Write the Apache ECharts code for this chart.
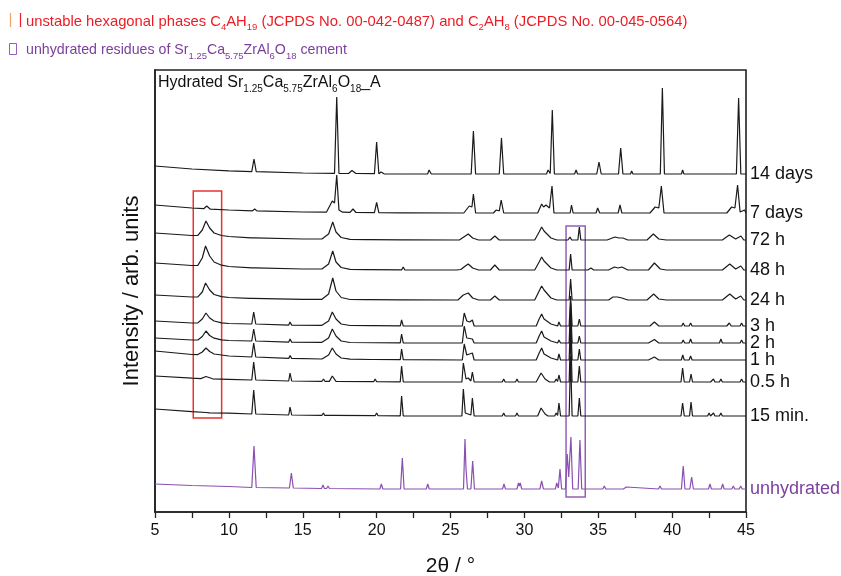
<!DOCTYPE html>
<html>
<head>
<meta charset="utf-8">
<script src="https://cdn.jsdelivr.net/npm/echarts@6/dist/echarts.min.js"></script>
<style>
  html, body { margin: 0; padding: 0; background: #fff; }
  #chart { width: 841px; height: 576px; }
</style>
</head>
<body>
<div id="chart"></div>
<script>
// XRD patterns of hydrated Sr1.25Ca5.75ZrAl6O18 cement, stacked by hydration time.
// Each pattern: [2theta (deg), intensity (arb. units)] points.

const xTicks = [5, 10, 15, 20, 25, 30, 35, 40, 45];

const labels = ['14 days', '7 days', '72 h', '48 h', '24 h', '3 h', '2 h', '1 h', '0.5 h', '15 min.', 'unhydrated'];

// vertical shift applied to each pattern so they stack
const offsets = [338, 299, 272, 242, 212, 186, 169, 152, 130, 96, 23];

const days14 = [[5,8],[7.5,5],[10,3.2],[11.55,2.4],[11.7,15],[11.85,2.3],[15,1],[17.15,0.7],[17.3,77],[17.45,0.7],[18.1,0.5],[18.33,3.5],[18.6,0.5],[19.85,0.3],[20.0,32],[20.15,0.3],[20.3,2],[20.5,0.2],[22.1,0],[22.2,2],[22.3,0],[23.45,0],[23.55,4],[23.7,0],[26.4,0],[26.55,43],[26.7,0],[28.3,0],[28.45,36],[28.6,0],[31.5,0],[31.6,4],[31.75,0.5],[31.89,64],[32.03,0],[33.4,0],[33.5,4],[33.6,0],[34.9,0],[35.05,12],[35.2,0],[36.37,0],[36.52,26],[36.67,0],[37.18,0],[37.26,3],[37.35,0],[38.5,0],[38.57,2],[38.65,0],[39.2,0],[39.34,86],[39.48,0],[40.63,0],[40.71,4],[40.8,0],[44.35,0],[44.5,76],[44.65,0],[45,0]];

const days7 = [[5,8],[7.5,5],[8.3,4.3],[8.5,7],[8.75,3.8],[10,3],[11.6,2.2],[11.75,4],[11.9,2.1],[15,1],[16.6,0.8],[17.0,12],[17.15,10],[17.3,38],[17.45,3],[17.7,0.8],[18.2,0.6],[18.4,4],[18.6,0.5],[19.85,0.3],[20.0,10.5],[20.15,0.3],[21.8,0.2],[21.9,2],[22.0,0.2],[25.9,0],[26.27,7],[26.45,6],[26.55,19],[26.7,0],[27.9,0],[28.1,3],[28.3,2],[28.43,13],[28.6,0],[30.9,0],[31.17,9],[31.3,6],[31.46,8],[31.7,5],[31.87,27],[32.0,0],[33.1,0],[33.19,8],[33.3,0],[34.85,0],[34.96,5],[35.1,0],[36.35,0],[36.47,8],[36.6,0],[38.5,0],[38.85,6],[39.1,5],[39.27,27],[39.45,0],[43.7,0],[44.03,6],[44.25,5],[44.43,28],[44.6,1],[44.9,3],[45,0]];

const h72 = [[5,7],[7.5,4.5],[7.9,4.6],[8.2,10],[8.45,19],[8.7,12],[9.0,7],[9.5,4.5],[10,3.5],[11.5,2.2],[11.6,4],[11.75,2.2],[15,1],[16.3,1],[16.75,6],[17.03,18],[17.25,8],[17.6,2.5],[18.2,0.6],[19.3,0.4],[19.4,2],[19.5,0.4],[21.8,0.2],[21.9,1.5],[22.0,0.2],[25.6,0],[26.0,4],[26.2,6],[26.5,2],[26.9,0],[27.7,0],[28.0,4],[28.3,0],[30.7,0],[31.0,8],[31.17,13],[31.33,9],[31.46,10],[31.8,2],[32.2,0],[32.95,0],[33.09,3],[33.2,0],[33.62,0],[33.72,13],[33.82,0],[35.6,0],[36.13,3],[36.4,2],[36.67,2],[37,0],[38.3,0],[38.73,6],[39.1,1],[39.6,0],[43.4,0],[43.87,5],[44.3,1],[44.66,4],[44.85,0],[45,0]];

const h48 = [[5,7],[7.5,4.5],[7.9,4.6],[8.2,12],[8.42,24],[8.7,14],[9.0,8],[9.5,4.8],[10,3.5],[11.55,2.2],[11.68,4],[11.8,2.2],[15,1],[16.3,1],[16.75,6],[17.03,19],[17.25,8],[17.6,2.5],[18.2,0.6],[19.3,0.4],[19.4,2],[19.5,0.4],[21.7,0.2],[21.8,3],[21.9,0.2],[25.4,0],[25.53,2],[25.7,0.5],[26.0,4],[26.2,6],[26.5,2],[26.9,0],[27.7,0],[28.0,5],[28.3,0],[30.7,0],[31.0,8],[31.17,13],[31.33,9],[31.45,10],[31.8,2],[32.2,0],[33.03,0],[33.13,16],[33.23,0],[33.62,0],[33.7,2],[33.8,0],[34.3,0],[34.5,2],[34.7,0],[35.7,0],[36.1,3],[36.35,2],[36.6,3],[37,0],[38.4,0],[38.8,7],[39.2,1],[39.6,0],[43.4,0],[43.9,6],[44.3,1],[44.65,4],[44.85,0],[45,0]];

const h24 = [[5,5],[7.5,3],[7.9,3.1],[8.2,8],[8.42,17],[8.7,10],[9.0,5.5],[9.5,3.3],[10,2.5],[11.4,1.7],[11.5,3.5],[11.6,1.7],[15,0.7],[16.3,0.7],[16.75,6],[17.03,22],[17.25,9],[17.6,2.5],[18.2,0.5],[19.3,0.4],[19.4,2],[19.5,0.4],[21.7,0.2],[21.8,2],[21.9,0.2],[25.5,0],[25.87,5],[26.0,4],[26.2,7],[26.5,2],[26.9,0],[27.7,0],[28.0,4],[28.3,0],[30.7,0],[31.0,9],[31.17,14],[31.33,10],[31.46,11],[31.8,2],[32.2,0],[33.03,0],[33.13,21],[33.23,0],[35.7,0],[36.0,3],[36.3,3],[36.6,2],[37,0],[38.3,0],[38.75,6],[39.1,1],[39.6,0],[40.62,0],[40.7,2],[40.8,0],[43.4,0],[43.9,6],[44.3,1],[44.65,4],[44.85,0],[45,0]];

const h3 = [[5,5],[7.5,3],[7.9,3.1],[8.2,7],[8.45,13],[8.7,8],[9.0,5],[9.5,3.2],[10,2.5],[11.55,2],[11.68,14],[11.82,2],[14.05,0.9],[14.14,4],[14.25,0.9],[16.3,0.7],[16.75,5],[17.0,14],[17.25,7],[17.6,2],[18.2,0.5],[19.6,0.3],[19.7,2],[19.8,0.3],[21.6,0.2],[21.69,6],[21.8,0.2],[25.8,0],[25.93,13],[26.1,5],[26.3,4],[26.48,6],[26.6,0],[28.5,0],[28.6,2],[28.7,0],[30.8,0],[31.0,7],[31.17,12],[31.33,7],[31.46,8],[31.8,2],[32.25,0],[32.34,4],[32.45,0],[33.03,0],[33.13,30],[33.23,0],[33.62,0],[33.72,7],[33.82,0],[38.5,0],[38.8,4],[39.1,0],[40.65,0],[40.75,3],[40.85,0],[41.15,0],[41.25,3],[41.35,0],[43.7,0],[43.87,3],[44.0,0],[44.6,0],[44.7,3],[44.8,0],[45,0]];

const h2 = [[5,5],[7.5,3],[7.9,3.1],[8.2,6.5],[8.45,12],[8.7,7.5],[9.0,4.8],[9.5,3.2],[10,2.5],[11.55,2],[11.68,14],[11.82,2],[14.05,0.9],[14.14,4],[14.25,0.9],[16.3,0.7],[16.75,5],[17.0,14],[17.25,7],[17.6,2],[18.2,0.5],[21.6,0.2],[21.69,9],[21.8,0.2],[25.8,0],[25.93,17],[26.1,5],[26.2,6],[26.48,4],[26.6,0],[28.5,0],[28.6,2],[28.7,0],[30.8,0],[31.0,7],[31.17,12],[31.33,6],[31.46,6],[31.8,2],[32.25,0],[32.34,3],[32.45,0],[33.03,0],[33.13,40],[33.23,0],[33.62,0],[33.72,7],[33.82,0],[38.4,0],[38.8,3.5],[39.1,0],[40.65,0],[40.75,3],[40.85,0],[41.15,0],[41.25,4],[41.35,0],[42.7,0],[42.8,2],[42.9,0],[43.2,0],[43.3,4],[43.4,0],[44.6,0],[44.7,3],[44.8,0],[45,0]];

const h1 = [[5,9],[7.5,5.5],[7.9,5.4],[8.2,8],[8.45,12],[8.7,8.5],[9.0,6],[9.5,5],[10,4],[11.55,3],[11.68,17],[11.82,3],[14.05,1.6],[14.14,4.5],[14.25,1.6],[16.3,1],[16.75,5],[17.0,12],[17.25,6],[17.6,2],[18.2,0.8],[19.6,0.5],[19.7,2],[19.8,0.5],[21.6,0.3],[21.69,11],[21.8,0.3],[25.8,0],[25.93,16],[26.1,5],[26.2,5],[26.48,7],[26.6,0],[30.8,0],[31.0,7],[31.17,12],[31.33,6],[31.46,6],[31.8,2],[32.25,0],[32.34,6],[32.45,0],[33.03,0],[33.13,45],[33.23,0],[33.62,0],[33.72,11],[33.82,0],[38.4,0],[38.8,3],[39.1,0],[40.62,0],[40.72,5],[40.82,0],[41.15,0],[41.25,4],[41.35,0],[43.2,0],[43.3,2],[43.4,0],[45,0]];

const h05 = [[5,6],[7.5,3.8],[8.1,3.4],[8.45,5.5],[8.9,3.2],[10,2.7],[11.55,2],[11.68,20],[11.82,2],[14.05,1],[14.14,9],[14.25,1],[16.3,0.7],[16.4,3],[16.5,0.7],[16.8,0.6],[17.0,6],[17.25,0.6],[19.8,0.3],[19.9,3],[20.0,0.3],[21.6,0.2],[21.69,16],[21.8,0.2],[25.77,0],[25.87,19],[26.05,3],[26.2,4],[26.38,1],[26.48,10],[26.6,0],[28.5,0],[28.6,3],[28.7,0],[29.4,0],[29.5,3],[29.6,0],[30.8,0],[31.13,9],[31.4,3],[31.7,0],[32.05,0],[32.15,3],[32.25,0.5],[32.34,7],[32.45,0],[33.03,0],[33.13,50],[33.23,0],[33.62,0],[33.72,16],[33.82,0],[40.6,0],[40.71,14],[40.82,0],[41.18,0],[41.28,8],[41.38,0],[42.4,0],[42.5,2],[42.6,0],[42.7,0],[42.8,3],[42.9,0],[43.2,0],[43.3,3],[43.4,0],[44.6,0],[44.7,3],[44.8,0],[45,0]];

const min15 = [[5,7],[7.5,4.3],[8.45,3.5],[8.7,3.2],[10,2.8],[11.55,2],[11.68,26],[11.82,2],[14.05,1],[14.14,9],[14.25,1],[16.3,0.7],[16.4,3],[16.48,0.7],[16.55,2.5],[16.65,0.7],[16.9,0.6],[17.0,2],[17.1,0.6],[19.9,0.3],[20.0,3],[20.1,0.3],[21.6,0.2],[21.69,20],[21.8,0.2],[23.9,0],[24.0,2],[24.1,0],[25.77,0],[25.87,27],[26.0,3],[26.38,1],[26.48,18],[26.6,0],[28.5,0],[28.6,3],[28.7,0],[29.4,0],[29.5,3],[29.6,0],[30.9,0],[31.13,8],[31.4,2],[31.6,0],[32.05,0],[32.15,3],[32.25,0.5],[32.34,13],[32.45,0],[33.03,0],[33.13,60],[33.23,0],[33.62,0],[33.72,18],[33.82,0],[40.6,0],[40.71,13],[40.82,0],[41.18,0],[41.28,14],[41.38,0],[42.4,0],[42.5,3],[42.6,0],[42.7,0],[42.8,3],[42.9,0],[43.2,0],[43.3,3],[43.4,0],[44.6,0],[44.7,2],[44.8,0],[45,0]];

const unhydrated = [[5,5],[7.5,3.5],[10,2.5],[11.55,1.5],[11.7,43],[11.85,1.5],[14.1,1],[14.23,16],[14.36,1],[16.27,0.5],[16.37,4],[16.47,0.5],[16.61,0.5],[16.71,3],[16.81,0.5],[20.22,0],[20.32,5],[20.42,0],[21.62,0],[21.74,31],[21.86,0],[23.36,0],[23.46,5],[23.56,0],[25.88,0],[25.98,50],[26.05,20],[26.15,0],[26.38,0],[26.5,28],[26.62,0],[27.7,0],[27.79,2],[27.88,0],[28.52,0],[28.62,5],[28.72,0],[29.5,0],[29.6,6],[29.66,3],[29.72,6],[29.82,0],[31.05,0],[31.17,8],[31.29,0],[32.1,0],[32.19,6],[32.3,1],[32.41,20],[32.52,0],[32.78,0],[32.9,35],[33.0,12],[33.15,52],[33.27,0],[33.64,0],[33.76,49],[33.88,0],[35.31,0],[35.41,3],[35.51,0],[36.7,0],[36.8,2],[36.9,2],[37.0,0],[39.08,0],[39.18,3],[39.28,0],[40.63,0],[40.75,23],[40.87,0],[41.2,0],[41.32,12],[41.44,0],[42.46,0],[42.56,5],[42.66,0],[43.32,0],[43.42,5],[43.52,0],[44.04,0],[44.14,3],[44.24,0],[44.54,0],[44.64,3],[44.74,0],[45,0]];

const patterns = [days14, days7, h72, h48, h24, h3, h2, h1, h05, min15, unhydrated];

// highlighted 2theta windows (in plot coordinates)
const hexBoxX = [7.59, 9.51];
const hexBoxY = [94, 321];
const cemBoxX = [32.82, 34.12];
const cemBoxY = [15, 286];

const FONT = '"Liberation Sans", Arial, sans-serif';
const BLACK = '#1a1a1a';
const RED = '#ec1c24';
const PURPLE = '#7b3f9e';
const LINE_PURPLE = '#8a4fb0';

function richStyles(color, size, subSize) {
  return {
    n: { fontSize: size, fontFamily: FONT, fill: color, lineHeight: 22 },
    s: { fontSize: subSize, fontFamily: FONT, fill: color, lineHeight: 10, verticalAlign: 'bottom' }
  };
}

const series = patterns.map((pts, i) => {
  const isUnhyd = labels[i] === 'unhydrated';
  const s = {
    name: labels[i],
    type: 'line',
    data: pts.map(p => [p[0], p[1] + offsets[i]]),
    showSymbol: false,
    symbol: 'none',
    silent: true,
    lineStyle: { width: 1.2, color: isUnhyd ? LINE_PURPLE : BLACK },
    endLabel: {
      show: true,
      formatter: labels[i],
      distance: 4,
      fontSize: 18,
      fontFamily: FONT,
      color: isUnhyd ? PURPLE : '#111'
    },
    labelLayout: { hideOverlap: false }
  };
  if (isUnhyd) {
    s.markArea = {
      silent: true,
      itemStyle: { color: 'rgba(0,0,0,0)', borderWidth: 1.5 },
      data: [
        [{ xAxis: hexBoxX[0], yAxis: hexBoxY[0], itemStyle: { borderColor: '#e8332f', color: 'rgba(0,0,0,0)', borderWidth: 1.5 } },
         { xAxis: hexBoxX[1], yAxis: hexBoxY[1] }],
        [{ xAxis: cemBoxX[0], yAxis: cemBoxY[0], itemStyle: { borderColor: '#9260b8', color: 'rgba(0,0,0,0)', borderWidth: 1.5 } },
         { xAxis: cemBoxX[1], yAxis: cemBoxY[1] }]
      ]
    };
  }
  return s;
});

const chart = echarts.init(document.getElementById('chart'), null, { renderer: 'canvas' });

chart.setOption({
  animation: false,
  backgroundColor: '#fff',
  grid: {
    left: 155, right: 95, top: 70, bottom: 64,
    outerBoundsMode: 'none',
    containLabel: false,
    show: true, borderColor: '#222', borderWidth: 1.6, backgroundColor: 'transparent'
  },
  xAxis: {
    type: 'value',
    min: xTicks[0],
    max: xTicks[xTicks.length - 1],
    interval: 5,
    name: '2θ / °',
    nameLocation: 'middle',
    nameGap: 44,
    nameTextStyle: { fontSize: 21, fontFamily: FONT, color: '#111' },
    axisLine: { show: true, onZero: false, lineStyle: { color: '#222', width: 1.6 } },
    axisTick: { show: true, inside: false, length: 6, lineStyle: { color: '#222', width: 1.3 } },
    minorTick: { show: true, splitNumber: 2, length: 6, lineStyle: { color: '#222', width: 1.3 } },
    axisLabel: { fontSize: 16, fontFamily: FONT, color: '#111', margin: 11,
      formatter: v => (xTicks.includes(v) ? String(v) : '') },
    splitLine: { show: false }
  },
  yAxis: {
    type: 'value',
    min: 0,
    max: 442,
    name: 'Intensity / arb. units',
    nameLocation: 'middle',
    nameGap: 12,
    nameTextStyle: { fontSize: 22, fontFamily: FONT, color: '#111' },
    axisLine: { show: true, lineStyle: { color: '#222', width: 1.6 } },
    axisTick: { show: false },
    axisLabel: { show: false },
    splitLine: { show: false }
  },
  series: series,
  graphic: [
    // legend markers for the annotation lines
    { type: 'line', shape: { x1: 10.5, y1: 13, x2: 10.5, y2: 27 }, style: { stroke: '#f4a460', lineWidth: 1.2 } },
    { type: 'line', shape: { x1: 20.5, y1: 13, x2: 20.5, y2: 27 }, style: { stroke: RED, lineWidth: 1.2 } },
    { type: 'rect', shape: { x: 9.5, y: 43.5, width: 7, height: 11 }, style: { fill: 'none', stroke: '#9260b8', lineWidth: 1 } },
    {
      type: 'text', left: 26, top: 14,
      style: {
        text: '{n|unstable hexagonal phases C}{s|4}{n|AH}{s|19}{n| (JCPDS No. 00-042-0487) and C}{s|2}{n|AH}{s|8}{n| (JCPDS No. 00-045-0564)}',
        rich: richStyles(RED, 14.8, 9.5)
      }
    },
    {
      type: 'text', left: 26, top: 43,
      style: {
        text: '{n|unhydrated residues of Sr}{s|1.25}{n|Ca}{s|5.75}{n|ZrAl}{s|6}{n|O}{s|18}{n| cement}',
        rich: richStyles(PURPLE, 14.2, 9.5)
      }
    },
    {
      type: 'text', left: 158, top: 75,
      style: {
        text: '{n|Hydrated Sr}{s|1.25}{n|Ca}{s|5.75}{n|ZrAl}{s|6}{n|O}{s|18}{n|_A}',
        rich: richStyles('#111', 16, 10)
      }
    }
  ]
});
</script>
</body>
</html>
